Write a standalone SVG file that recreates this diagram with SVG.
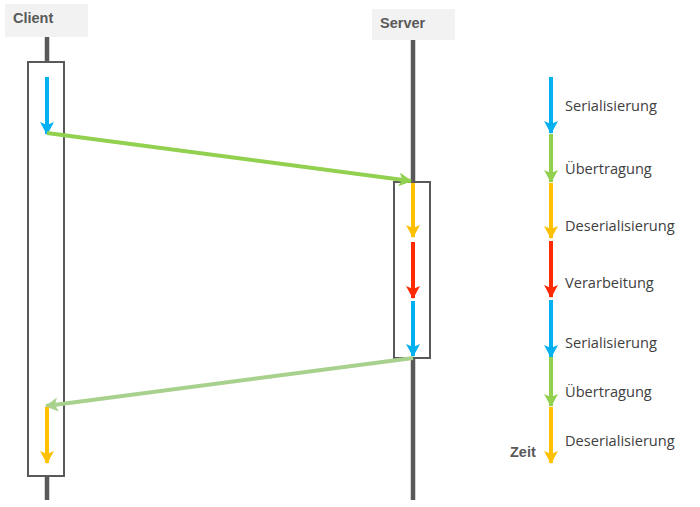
<svg xmlns="http://www.w3.org/2000/svg" width="700" height="507" viewBox="0 0 700 507">
<defs>
<style>
.hdr{fill:#f2f2f2}
.ht{font-family:"Liberation Sans",Arial,sans-serif;font-weight:bold;font-size:14.5px;fill:#595959}
.life{stroke:#595959;stroke-width:4.5}
.box{fill:#fff;stroke:#595959;stroke-width:2}
.lbl{font-family:"Open Sans","Liberation Sans",sans-serif;font-size:14.6px;fill:#404040}
.a{fill:none;stroke-width:4}
</style>
<marker id="mBlue" markerUnits="userSpaceOnUse" markerWidth="14" markerHeight="14" refX="12" refY="7" orient="auto"><path d="M0,0 L13,7 L0,14 L3,7 Z" fill="#00b0f0"/></marker>
<marker id="mGreen" markerUnits="userSpaceOnUse" markerWidth="14" markerHeight="14" refX="12" refY="7" orient="auto"><path d="M0,0 L13,7 L0,14 L3,7 Z" fill="#92d050"/></marker>
<marker id="mLGreen" markerUnits="userSpaceOnUse" markerWidth="14" markerHeight="14" refX="12" refY="7" orient="auto"><path d="M0,0 L13,7 L0,14 L3,7 Z" fill="#a9d18e"/></marker>
<marker id="mYellow" markerUnits="userSpaceOnUse" markerWidth="14" markerHeight="14" refX="12" refY="7" orient="auto"><path d="M0,0 L13,7 L0,14 L3,7 Z" fill="#ffc000"/></marker>
<marker id="mRed" markerUnits="userSpaceOnUse" markerWidth="14" markerHeight="14" refX="12" refY="7" orient="auto"><path d="M0,0 L13,7 L0,14 L3,7 Z" fill="#ff2a00"/></marker>
</defs>
<rect width="700" height="507" fill="#fff"/>

<g id="client">
<rect class="hdr" x="5" y="4" width="83" height="33"/>
<text class="ht" x="13" y="23">Client</text>
<line class="life" x1="47" y1="37" x2="47" y2="500"/>
<rect class="box" x="28" y="62" width="36" height="414"/>
</g>

<g id="server">
<rect class="hdr" x="372" y="9" width="83" height="31"/>
<text class="ht" x="380" y="28">Server</text>
<line class="life" x1="413" y1="40" x2="413" y2="500"/>
<rect class="box" x="394" y="182" width="36" height="176"/>
</g>

<g id="connectors">
<line class="a" x1="47" y1="77" x2="47" y2="134" stroke="#00b0f0" marker-end="url(#mBlue)"/>
<line class="a" x1="47" y1="133" x2="411" y2="181" stroke="#92d050" marker-end="url(#mGreen)"/>
<line class="a" x1="413" y1="183" x2="413" y2="237" stroke="#ffc000" marker-end="url(#mYellow)"/>
<line class="a" x1="413" y1="242" x2="413" y2="298" stroke="#ff2a00" marker-end="url(#mRed)"/>
<line class="a" x1="413" y1="301" x2="413" y2="356" stroke="#00b0f0" marker-end="url(#mBlue)"/>
<line class="a" x1="413" y1="358" x2="46" y2="406" stroke="#a9d18e" marker-end="url(#mLGreen)"/>
<line class="a" x1="47" y1="407" x2="47" y2="463" stroke="#ffc000" marker-end="url(#mYellow)"/>
</g>

<g id="legend">
<line class="a" x1="551" y1="77" x2="551" y2="133" stroke="#00b0f0" marker-end="url(#mBlue)"/>
<line class="a" x1="551" y1="134" x2="551" y2="182" stroke="#92d050" marker-end="url(#mGreen)"/>
<line class="a" x1="551" y1="183" x2="551" y2="238" stroke="#ffc000" marker-end="url(#mYellow)"/>
<line class="a" x1="551" y1="241" x2="551" y2="297" stroke="#ff2a00" marker-end="url(#mRed)"/>
<line class="a" x1="551" y1="300" x2="551" y2="357" stroke="#00b0f0" marker-end="url(#mBlue)"/>
<line class="a" x1="551" y1="357" x2="551" y2="406" stroke="#92d050" marker-end="url(#mGreen)"/>
<line class="a" x1="551" y1="407" x2="551" y2="463" stroke="#ffc000" marker-end="url(#mYellow)"/>
<text class="lbl" x="565" y="111">Serialisierung</text>
<text class="lbl" x="565" y="174">Übertragung</text>
<text class="lbl" x="565" y="231">Deserialisierung</text>
<text class="lbl" x="565" y="288">Verarbeitung</text>
<text class="lbl" x="565" y="348">Serialisierung</text>
<text class="lbl" x="565" y="397">Übertragung</text>
<text class="lbl" x="565" y="446">Deserialisierung</text>
<text class="ht" x="510" y="457">Zeit</text>
</g>
</svg>
